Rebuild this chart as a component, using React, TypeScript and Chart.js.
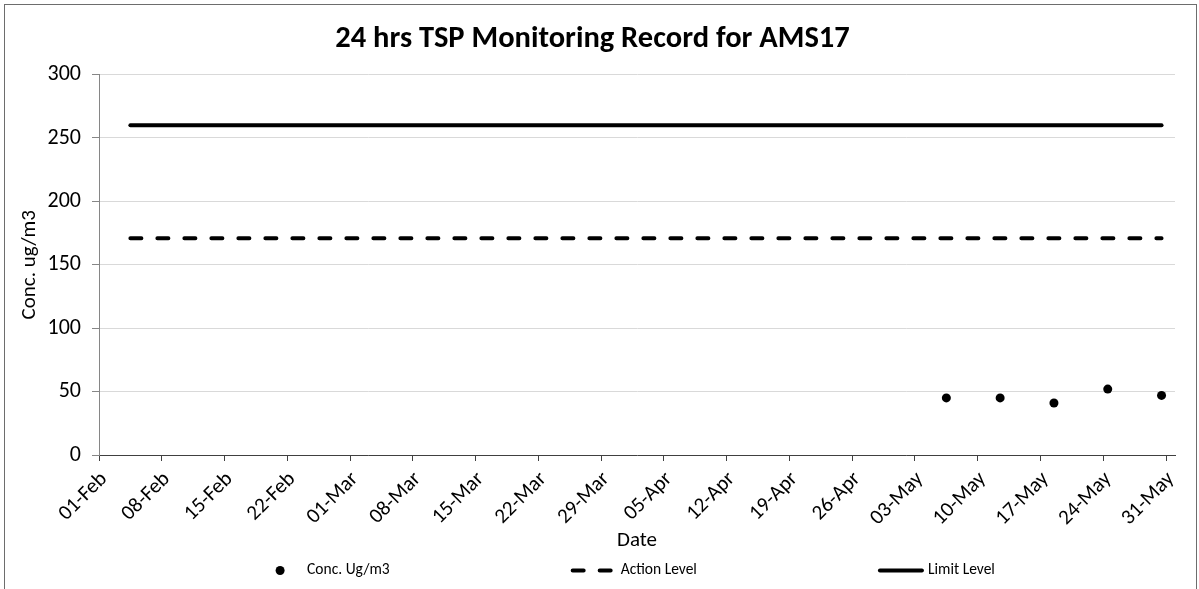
import React, { useEffect, useRef } from 'react';
import { Chart, registerables } from 'chart.js';

Chart.register(...registerables);

const FONT = 'Carlito, Lato, "Open Sans", sans-serif';

const chartTitle = '24 hrs TSP Monitoring Record for AMS17';
const xAxisTitle = 'Date';
const yAxisTitle = 'Conc. ug/m3';

const axisStart = '2021-02-01T00:00:00Z';
const axisEnd = '2021-06-01T00:00:00Z';
const xTickStepDays = 7;
const xTickLabels = [
  '01-Feb', '08-Feb', '15-Feb', '22-Feb', '01-Mar', '08-Mar', '15-Mar', '22-Mar', '29-Mar',
  '05-Apr', '12-Apr', '19-Apr', '26-Apr', '03-May', '10-May', '17-May', '24-May', '31-May',
];
const yMin = 0;
const yMax = 300;
const yStep = 50;

const seriesNames = ['Conc. Ug/m3', 'Action Level', 'Limit Level'];

const concDates = [
  '2021-05-06T12:00:00Z',
  '2021-05-12T12:00:00Z',
  '2021-05-18T12:00:00Z',
  '2021-05-24T12:00:00Z',
  '2021-05-30T12:00:00Z',
];
const concValues = [45, 45, 41, 52, 47];

const levelDates = ['2021-02-04T12:00:00Z', '2021-05-30T12:00:00Z'];
const actionLevelValues = [171, 171];
const limitLevelValues = [260, 260];

const DAY_MS = 86400000;
const dayOf = (s: string) => (Date.parse(s) - Date.parse(axisStart)) / DAY_MS;

const bottomLegend = {
  id: 'bottomLegend',
  afterDraw(chart: any) {
    const ctx = chart.ctx as CanvasRenderingContext2D;
    const fontSize = 15.5;
    const iconW = 46;
    const textGap = 4;
    const gap = 181;
    const centerX = 626;
    const y = 570.5;
    ctx.save();
    ctx.font = `${fontSize}px ${FONT}`;
    const items = chart.data.datasets.map((ds: any) => ({ ds, tw: ctx.measureText(ds.label).width }));
    const total =
      items.reduce((s: number, it: any) => s + iconW + textGap + it.tw, 0) + gap * (items.length - 1);
    let x = centerX - total / 2;
    items.forEach((it: any) => {
      const ds = it.ds;
      ctx.strokeStyle = ds.borderColor;
      ctx.fillStyle = ds.backgroundColor;
      if (ds.showLine === false) {
        ctx.beginPath();
        ctx.arc(x + iconW / 2, y, ds.pointRadius, 0, Math.PI * 2);
        ctx.fill();
      } else {
        ctx.lineWidth = ds.borderWidth;
        ctx.lineCap = ds.borderCapStyle || 'butt';
        ctx.setLineDash(ds.borderDash || []);
        ctx.beginPath();
        ctx.moveTo(x + 2, y);
        ctx.lineTo(x + iconW - 2, y);
        ctx.stroke();
        ctx.setLineDash([]);
      }
      ctx.fillStyle = '#000';
      ctx.textBaseline = 'middle';
      ctx.textAlign = 'left';
      ctx.fillText(ds.label, x + iconW + textGap, y);
      x += iconW + textGap + it.tw + gap;
    });
    ctx.restore();
  },
};

export default function App() {
  const canvasRef = useRef<HTMLCanvasElement | null>(null);

  useEffect(() => {
    const canvas = canvasRef.current;
    if (!canvas) return;

    const concData = concDates.map((d, i) => ({ x: dayOf(d), y: concValues[i] }));
    const actionData = levelDates.map((d, i) => ({ x: dayOf(d), y: actionLevelValues[i] }));
    const limitData = levelDates.map((d, i) => ({ x: dayOf(d), y: limitLevelValues[i] }));

    const chart = new Chart(canvas, {
      type: 'scatter',
      data: {
        datasets: [
          {
            label: seriesNames[0],
            data: concData,
            showLine: false,
            pointRadius: 4.5,
            pointStyle: 'circle',
            backgroundColor: '#000000',
            borderColor: '#000000',
            borderWidth: 0,
          },
          {
            label: seriesNames[1],
            data: actionData,
            showLine: true,
            pointRadius: 0,
            borderColor: '#000000',
            backgroundColor: '#000000',
            borderWidth: 4,
            borderDash: [11, 16],
            borderCapStyle: 'round',
          },
          {
            label: seriesNames[2],
            data: limitData,
            showLine: true,
            pointRadius: 0,
            borderColor: '#000000',
            backgroundColor: '#000000',
            borderWidth: 4,
            borderCapStyle: 'round',
          },
        ],
      } as any,
      options: {
        animation: false,
        responsive: false,
        maintainAspectRatio: false,
        layout: { padding: { left: 10, right: 24, top: 0, bottom: 35 } },
        plugins: {
          legend: { display: false },
          tooltip: { enabled: false },
          title: {
            display: true,
            text: chartTitle,
            color: '#000000',
            font: { family: FONT, size: 30.5, weight: 'bold' },
            padding: { top: 21, bottom: 17 },
          },
        },
        scales: {
          x: {
            type: 'linear',
            min: 0,
            max: dayOf(axisEnd),
            afterBuildTicks: (scale: any) => {
              scale.ticks = xTickLabels.map((_, i) => ({ value: i * xTickStepDays }));
            },
            afterFit: (scale: any) => {
              scale.height = 99;
            },
            ticks: {
              stepSize: xTickStepDays,
              autoSkip: false,
              maxRotation: 45,
              minRotation: 45,
              padding: 6,
              labelOffset: 5,
              color: '#000000',
              font: { family: FONT, size: 21 },
              callback: (v: any) => xTickLabels[Math.round(Number(v) / xTickStepDays)] ?? '',
            },
            grid: {
              drawOnChartArea: false,
              drawTicks: true,
              tickLength: 6,
              color: '#404040',
              tickColor: '#404040',
            },
            border: { color: '#404040', width: 1 },
            title: {
              display: true,
              text: xAxisTitle,
              color: '#000000',
              font: { family: FONT, size: 21 },
              padding: { top: 0, bottom: 1 },
            },
          },
          y: {
            type: 'linear',
            min: yMin,
            max: yMax,
            afterFit: (scale: any) => {
              scale.width = 89;
            },
            ticks: {
              stepSize: yStep,
              padding: 11,
              color: '#000000',
              font: { family: FONT, size: 22 },
            },
            grid: {
              color: '#d9d9d9',
              tickColor: '#868686',
              tickLength: 7,
              lineWidth: 1,
            },
            border: { color: '#868686', width: 1 },
            title: {
              display: true,
              text: yAxisTitle,
              color: '#000000',
              font: { family: FONT, size: 21 },
              padding: { top: 7, bottom: 0 },
            },
          },
        },
      } as any,
      plugins: [bottomLegend],
    });

    return () => {
      chart.destroy();
    };
  }, []);

  return (
    <div style={{ position: 'absolute', left: 0, top: 0, width: 1199, height: 589, overflow: 'hidden', background: '#ffffff' }}>
      <canvas
        ref={canvasRef}
        width={1199}
        height={589}
        style={{ position: 'absolute', left: 0, top: 0, width: 1199, height: 589 }}
      />
      <div
        style={{
          position: 'absolute',
          left: 4,
          top: 4,
          width: 1191,
          height: 640,
          border: '1px solid #6d6d6d',
          pointerEvents: 'none',
        }}
      />
    </div>
  );
}
